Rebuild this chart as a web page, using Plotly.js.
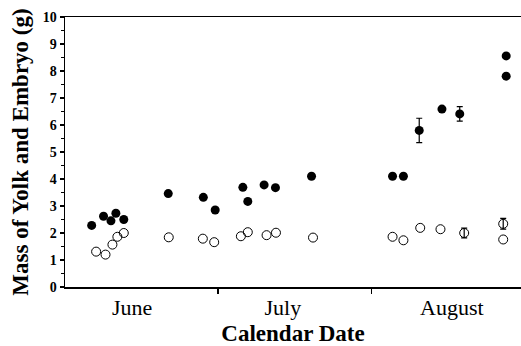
<!DOCTYPE html>
<html>
<head>
<meta charset="utf-8">
<script src="https://cdn.plot.ly/plotly-3.0.1.min.js"></script>
<style>html,body{margin:0;padding:0;background:#fff;}#chart{width:521px;height:346px;}</style>
</head>
<body>
<div id="chart"></div>
<script>
// x: days after 1 June; NaN = no error bar
var filledDays = [5.4, 7.8, 9.3, 10.3, 11.9, 20.9, 28.0, 30.4, 36.0, 37.0, 40.3, 42.6, 49.9, 66.3, 68.5, 71.7, 76.3, 79.9, 89.3, 89.3];
var filledMass = [2.28, 2.62, 2.45, 2.73, 2.50, 3.46, 3.32, 2.85, 3.69, 3.17, 3.78, 3.68, 4.10, 4.10, 4.10, 5.80, 6.59, 6.41, 8.56, 7.81];
var filledErr  = [NaN, NaN, NaN, NaN, NaN, NaN, NaN, NaN, NaN, NaN, NaN, NaN, NaN, NaN, NaN, 0.45, NaN, 0.27, NaN, NaN];

var openDays = [6.3, 8.2, 9.6, 10.6, 11.9, 21.0, 27.9, 30.2, 35.6, 37.0, 40.8, 42.7, 50.2, 66.3, 68.5, 71.9, 76.0, 80.8, 88.7, 88.7];
var openMass = [1.31, 1.20, 1.57, 1.86, 2.00, 1.84, 1.79, 1.66, 1.88, 2.03, 1.92, 2.01, 1.83, 1.86, 1.73, 2.19, 2.14, 2.00, 2.34, 1.76];
var openErr  = [NaN, NaN, NaN, NaN, NaN, NaN, NaN, NaN, NaN, NaN, NaN, NaN, NaN, NaN, NaN, NaN, NaN, 0.18, 0.20, NaN];

var monthLabels = ['June', 'July', 'August'];
var monthCenters = [13.6, 44.1, 78.3];
var monthBoundaries = [31, 62];

var serif = 'Liberation Serif, Times New Roman, serif';

var traces = [
  {
    x: openDays, y: openMass, type: 'scatter', mode: 'markers',
    marker: {symbol: 'circle-open', size: 9, color: '#000', line: {width: 1, color: '#000'}},
    error_y: {type: 'data', array: openErr, visible: true, color: '#000', thickness: 1.2, width: 3}
  },
  {
    x: filledDays, y: filledMass, type: 'scatter', mode: 'markers',
    marker: {symbol: 'circle', size: 9, color: '#000'},
    error_y: {type: 'data', array: filledErr, visible: true, color: '#000', thickness: 1.2, width: 3}
  }
];

var layout = {
  width: 521, height: 346,
  margin: {l: 65, r: 0, t: 17, b: 58.5},
  paper_bgcolor: '#fff', plot_bgcolor: '#fff',
  showlegend: false,
  font: {family: serif, color: '#000'},
  xaxis: {
    range: [0, 92.3],
    tickmode: 'array', tickvals: monthCenters, ticktext: monthLabels,
    ticks: '', tickfont: {family: serif, size: 22, color: '#000'},
    minor: {tickmode: 'array', tickvals: monthBoundaries, ticks: 'outside', ticklen: 5, tickwidth: 1.5, tickcolor: '#000', showgrid: false},
    showgrid: false, zeroline: false,
    showline: true, linecolor: '#000', linewidth: 1.5, mirror: true,
    title: {text: 'Calendar Date', font: {family: serif, size: 23, weight: 'bold', color: '#000'}, standoff: 8}
  },
  yaxis: {
    range: [0, 10], dtick: 1, tick0: 0,
    ticks: 'outside', ticklen: 4, tickwidth: 1.5, tickcolor: '#000',
    minor: {dtick: 0.5, ticks: 'outside', ticklen: 3, tickwidth: 1, tickcolor: '#000', showgrid: false},
    tickfont: {family: serif, size: 14, weight: 'bold', color: '#000'},
    showgrid: false, zeroline: false,
    showline: true, linecolor: '#000', linewidth: 1.5,
    title: {text: 'Mass of Yolk and Embryo (g)', font: {family: serif, size: 23, weight: 'bold', color: '#000'}, standoff: 7}
  }
};

Plotly.newPlot('chart', traces, layout, {staticPlot: true, displayModeBar: false});
</script>
</body>
</html>
